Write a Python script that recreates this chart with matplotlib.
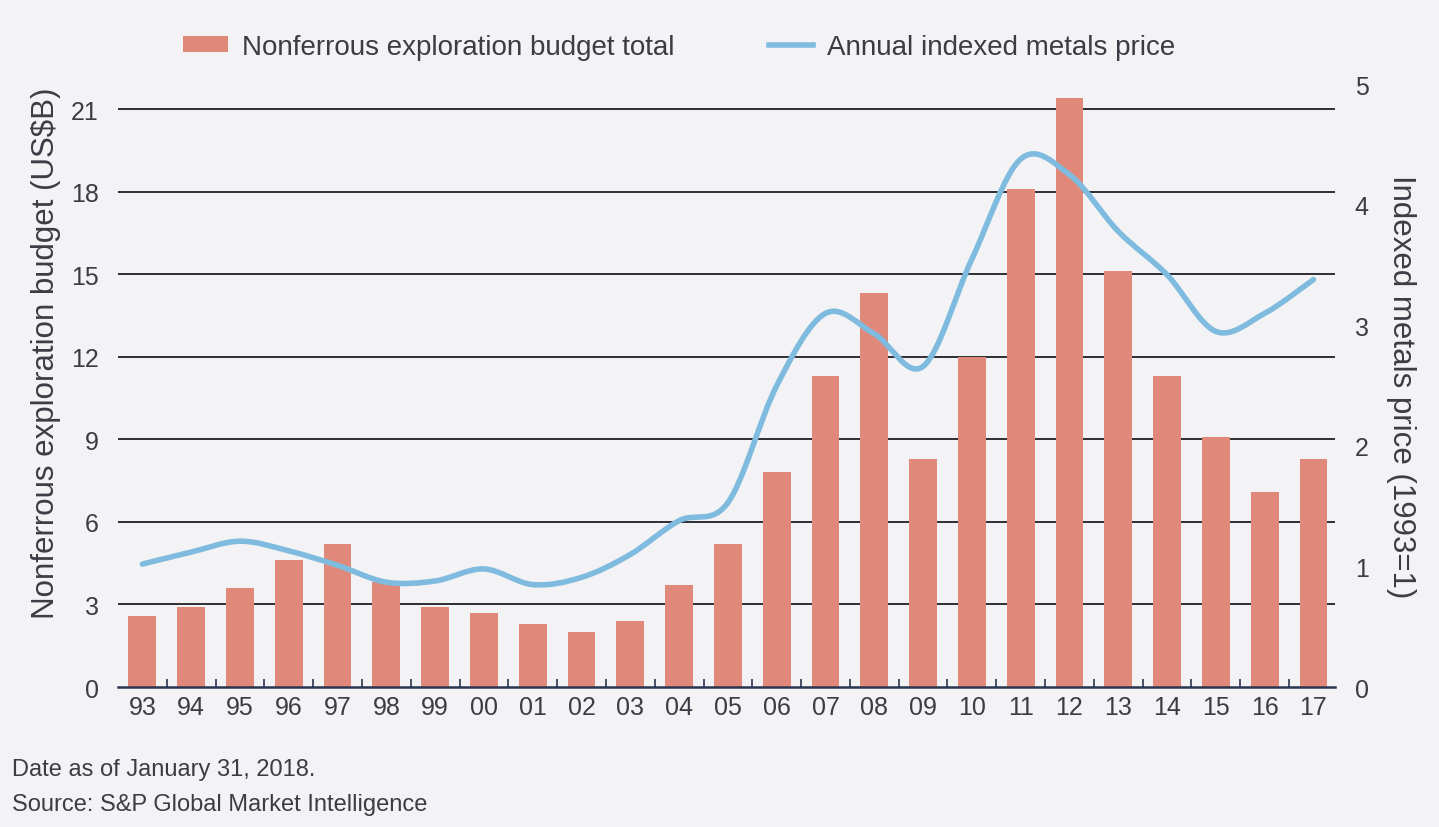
import numpy as np
import matplotlib
matplotlib.use("Agg")
import matplotlib.pyplot as plt
from matplotlib.path import Path
from matplotlib.patches import PathPatch, Patch
from matplotlib.lines import Line2D

years = ["93", "94", "95", "96", "97", "98", "99", "00", "01", "02", "03", "04",
         "05", "06", "07", "08", "09", "10", "11", "12", "13", "14", "15", "16", "17"]
budget = [2.6, 2.9, 3.6, 4.6, 5.2, 3.8, 2.9, 2.7, 2.3, 2.0, 2.4, 3.7,
          5.2, 7.8, 11.3, 14.3, 8.3, 12.0, 18.1, 21.4, 15.1, 11.3, 9.1, 7.1, 8.3]
price = [1.02, 1.12, 1.21, 1.13, 1.01, 0.87, 0.88, 0.98, 0.85, 0.91, 1.1, 1.38,
         1.53, 2.5, 3.1, 2.93, 2.66, 3.55, 4.38, 4.25, 3.78, 3.42, 2.95, 3.1, 3.38]

left_ticks = [0, 3, 6, 9, 12, 15, 18, 21]
right_ticks = [0, 1, 2, 3, 4, 5]

bar_col = "#e0887a"
line_col = "#7fbbde"
bg = "#f3f3f5"
txt = "#3c3c44"

plt.rcParams['font.family'] = ['Liberation Sans', 'DejaVu Sans']

fig = plt.figure(figsize=(14.39, 8.28), dpi=100, facecolor=bg)
ax = fig.add_axes([0.082, 0.169, 0.846, 0.728])
ax.set_facecolor(bg)
x = np.arange(len(years))

for t in left_ticks[1:]:
    ax.axhline(t, color="#1e1e24", lw=1.3, zorder=1)
ax.bar(x, budget, width=0.57, color=bar_col, zorder=2)

ax.set_xlim(-0.5, len(years) - 0.55)
ax.set_ylim(0, 21.9)
ax.set_xticks(x)
ax.set_xticklabels(years, fontsize=18, color=txt)
ax.set_xticks(x[:-1] + 0.5, minor=True)
ax.tick_params(axis='x', which='major', length=0, pad=6)
ax.tick_params(axis='x', which='minor', direction='in', length=6, width=1.2, color="#2a3550")
ax.set_yticks(left_ticks)
ax.set_yticklabels([str(t) for t in left_ticks], fontsize=18, color=txt)
ax.tick_params(axis='y', length=0, pad=14)
for s in ['top', 'left', 'right']:
    ax.spines[s].set_visible(False)
ax.spines['bottom'].set_color("#2a3550")
ax.spines['bottom'].set_linewidth(1.8)
ax.set_ylabel("Nonferrous exploration budget (US$B)", fontsize=22.5, color=txt)
ax.yaxis.set_label_coords(-0.047, 0.555)

ax2 = ax.twinx()
ax2.set_ylim(0, 5)
ax2.set_yticks(right_ticks)
ax2.set_yticklabels([str(t) for t in right_ticks], fontsize=18, color=txt)
ax2.tick_params(axis='y', length=0, pad=14)
for s in ['top', 'left', 'right', 'bottom']:
    ax2.spines[s].set_visible(False)
ax2.set_ylabel("Indexed metals price (1993=1)", fontsize=22.5, color=txt, rotation=-90,
               labelpad=34)

# smooth curve through the price points (Catmull-Rom drawn as bezier path)
pts = np.column_stack([x, price]).astype(float)
ext = np.vstack([pts[0], pts, pts[-1]])
verts = [tuple(pts[0])]
codes = [Path.MOVETO]
for i in range(len(pts) - 1):
    p0, p1, p2, p3 = ext[i], ext[i + 1], ext[i + 2], ext[i + 3]
    c1 = p1 + (p2 - p0) / 6.0
    c2 = p2 - (p3 - p1) / 6.0
    verts += [tuple(c1), tuple(c2), tuple(p2)]
    codes += [Path.CURVE4] * 3
ax2.add_patch(PathPatch(Path(verts, codes), facecolor='none', edgecolor=line_col,
                        lw=4, capstyle='round', joinstyle='round', zorder=3))

handles = [Patch(facecolor=bar_col, edgecolor='none'),
           Line2D([0], [0], color=line_col, lw=4)]
fig.legend(handles, ["Nonferrous exploration budget total", "Annual indexed metals price"],
           loc='center', bbox_to_anchor=(0.472, 0.942), ncol=2, frameon=False,
           fontsize=20, handlelength=1.6, handleheight=0.5, handletextpad=0.5,
           columnspacing=3.4, labelcolor=txt)

fig.text(0.008, 0.07, "Date as of January 31, 2018.", fontsize=17, color=txt, va='center')
fig.text(0.008, 0.028, "Source: S&P Global Market Intelligence", fontsize=17, color=txt,
         va='center')

fig.savefig("out.png", dpi=100, facecolor=bg)
